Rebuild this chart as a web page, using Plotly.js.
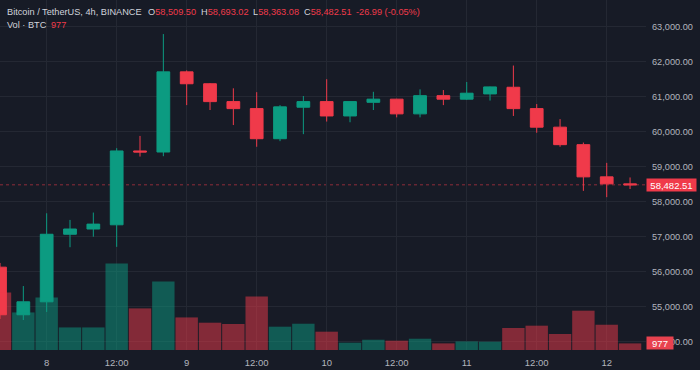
<!DOCTYPE html>
<html>
<head>
<meta charset="utf-8">
<script src="https://cdn.plot.ly/plotly-3.0.1.min.js"></script>
<style>
  html, body { margin: 0; padding: 0; background: #171b26; }
  #chart { width: 700px; height: 370px; }
</style>
</head>
<body>
<div id="chart"></div>
<script>
// ---- data ----
const times = [
  '2024-08-07 16:00','2024-08-07 20:00',
  '2024-08-08 00:00','2024-08-08 04:00','2024-08-08 08:00','2024-08-08 12:00','2024-08-08 16:00','2024-08-08 20:00',
  '2024-08-09 00:00','2024-08-09 04:00','2024-08-09 08:00','2024-08-09 12:00','2024-08-09 16:00','2024-08-09 20:00',
  '2024-08-10 00:00','2024-08-10 04:00','2024-08-10 08:00','2024-08-10 12:00','2024-08-10 16:00','2024-08-10 20:00',
  '2024-08-11 00:00','2024-08-11 04:00','2024-08-11 08:00','2024-08-11 12:00','2024-08-11 16:00','2024-08-11 20:00',
  '2024-08-12 00:00','2024-08-12 04:00'
];
const open  = [56130,54770,55140,57070,57220,57340,59450,59420,61710,61370,60860,60660,59800,60700,60860,60450,60840,60930,60510,61030,60930,61080,61270,60660,60130,59630,58710,58509.50];
const high  = [56250,55590,57670,57480,57690,59530,59880,62790,61750,61390,61240,61130,60760,61020,61500,60870,61140,60940,61210,61190,61420,61290,61890,60790,60360,59690,59110,58693.02];
const low   = [54650,54620,54850,56700,57000,56710,59290,59300,60760,60620,60190,59570,59730,59930,60290,60270,60620,60410,60410,60760,60910,60890,60450,59970,59570,58310,58130,58363.08];
const close = [54770,55140,57070,57220,57360,59450,59420,61710,61370,60860,60660,59800,60710,60860,60450,60860,60930,60510,61030,60930,61100,61280,60660,60130,59630,58710,58510,58482.51];
const volume = [8520,5560,7780,3340,3340,12820,6160,10150,4820,4040,3850,7930,3450,3890,2710,1080,1520,1380,1670,980,1270,1230,3260,3600,2370,5820,3740,977];

const priceTicks = [54000,55000,56000,57000,58000,59000,60000,61000,62000,63000];
const timeTickVals = ['2024-08-08 00:00','2024-08-08 12:00','2024-08-09 00:00','2024-08-09 12:00','2024-08-10 00:00','2024-08-10 12:00','2024-08-11 00:00','2024-08-11 12:00','2024-08-12 00:00'];
const timeTickText = ['8','12:00','9','12:00','10','12:00','11','12:00','12'];

const symbolText = 'Bitcoin / TetherUS, 4h, BINANCE';
const volText = 'Vol · BTC';

// ---- styling ----
const BG = '#171b26';
const GRID = '#242833';
const TXT = '#b2b5be';
const HEAD = '#d1d4dc';
const UP = '#0c9b81';
const DOWN = '#f03a4a';
const UPV = 'rgba(12,155,129,0.5)';
const DOWNV = 'rgba(240,58,74,0.5)';
const FONT = '"Liberation Sans", Arial, sans-serif';
const HS = 9.2; // header font size

const n = close.length;
const lastO = open[n-1], lastH = high[n-1], lastL = low[n-1], lastC = close[n-1];
const chg = lastC - lastO;
const pct = chg / lastO * 100;
const fmt = v => v.toLocaleString('en-US', {minimumFractionDigits: 2, maximumFractionDigits: 2});
const red = s => '<span style="color:' + DOWN + '">' + s + '</span>';

const volColors = close.map((c, i) => c >= open[i] ? UPV : DOWNV);

const W = 646, H = 350; // plot area in px
const px = x => x / W;
const py = y => 1 - y / H;

const traces = [
  {
    type: 'bar', x: times, y: volume, yaxis: 'y2',
    marker: {color: volColors, line: {width: 0}},
    hoverinfo: 'skip', showlegend: false
  },
  {
    type: 'candlestick', x: times, open: open, high: high, low: low, close: close,
    increasing: {line: {color: UP, width: 1}, fillcolor: UP},
    decreasing: {line: {color: DOWN, width: 1}, fillcolor: DOWN},
    whiskerwidth: 0,
    hoverinfo: 'skip', showlegend: false
  }
];

function head(x, y, text) {
  return {xref: 'paper', yref: 'paper', x: px(x), y: py(y), xanchor: 'left', yanchor: 'middle',
          showarrow: false, text: text, font: {family: FONT, size: HS, color: HEAD}};
}

const annotations = [
  head(5, 11.7, symbolText),
  head(145.5, 11.7, 'O' + red(fmt(lastO))),
  head(198.5, 11.7, 'H' + red(fmt(lastH))),
  head(250.5, 11.7, 'L' + red(fmt(lastL))),
  head(301.5, 11.7, 'C' + red(fmt(lastC))),
  head(354, 11.7, red(fmt(chg) + ' (' + pct.toFixed(2) + '%)')),
  head(5, 24.7, volText),
  head(48.5, 24.7, red(String(volume[n-1]))),
  // last price label
  {xref: 'paper', yref: 'y', x: 1, y: lastC, xanchor: 'left', yanchor: 'middle', showarrow: false,
   text: fmt(lastC), bgcolor: DOWN, borderpad: 0,
   font: {family: FONT, size: 9.5, color: '#ffffff'}, width: 49, height: 12, align: 'center'},
  // last volume label
  {xref: 'paper', yref: 'y2', x: 1, y: volume[n-1], xanchor: 'left', yanchor: 'middle', showarrow: false,
   text: String(volume[n-1]), bgcolor: '#e8424f', borderpad: 0,
   font: {family: FONT, size: 9.5, color: '#ffffff'}, width: 26, height: 12, align: 'center'}
];

const layout = {
  width: 700, height: 370,
  margin: {l: 0, r: 54, t: 0, b: 20, pad: 0},
  paper_bgcolor: BG, plot_bgcolor: BG,
  showlegend: false,
  hovermode: false,
  dragmode: false,
  boxgap: 0.22,
  bargap: 0.04,
  xaxis: {
    type: 'date',
    range: ['2024-08-07 16:00', '2024-08-12 06:44'],
    rangeslider: {visible: false},
    tickvals: timeTickVals, ticktext: timeTickText,
    showgrid: true, gridcolor: GRID, gridwidth: 1,
    zeroline: false, showline: false, ticks: '',
    tickfont: {family: FONT, size: 9.5, color: TXT},
    ticklabelstandoff: 5,
    fixedrange: true
  },
  yaxis: {
    side: 'right',
    range: [53763, 63763],
    tickvals: priceTicks,
    tickformat: ',.2f',
    showgrid: true, gridcolor: GRID, gridwidth: 1,
    zeroline: false, showline: false, ticks: '',
    tickfont: {family: FONT, size: 9.2, color: TXT},
    ticklabelstandoff: 5,
    fixedrange: true
  },
  yaxis2: {
    overlaying: 'y', side: 'left',
    range: [0, 51800],
    visible: false, showgrid: false, zeroline: false,
    fixedrange: true
  },
  shapes: [
    {type: 'line', xref: 'paper', yref: 'y', x0: 0, x1: 1, y0: lastC, y1: lastC,
     line: {color: 'rgba(240,58,74,0.55)', width: 1, dash: 'dot'}, layer: 'below'}
  ],
  annotations: annotations
};

Plotly.newPlot('chart', traces, layout, {staticPlot: true, displayModeBar: false});
</script>
</body>
</html>
